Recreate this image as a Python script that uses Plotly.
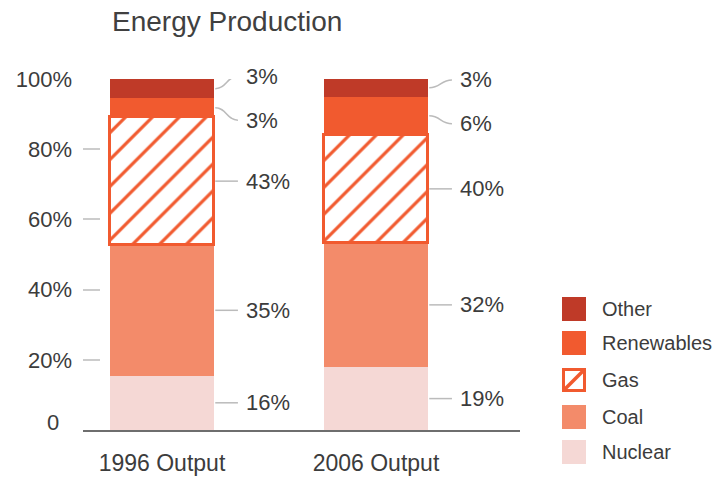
import plotly.graph_objects as go

# ---------------- data ----------------
categories = ["1996 Output", "2006 Output"]
series_names = ["Nuclear", "Coal", "Gas", "Renewables", "Other"]
nuclear = [15.5, 17.9]
coal = [37.2, 35.5]
gas = [36.4, 30.6]
renewables = [5.4, 11.0]
other = [5.5, 5.0]
nuclear_labels = ["16%", "19%"]
coal_labels = ["35%", "32%"]
gas_labels = ["43%", "40%"]
renewables_labels = ["3%", "6%"]
other_labels = ["3%", "3%"]
y_tick_vals = [20, 40, 60, 80, 100]
y_tick_text = ["20%", "40%", "60%", "80%", "100%"]

# ---------------- styles ----------------
C_OTHER = "#BF3A28"
C_REN = "#F15A2F"
C_COAL = "#F38B6A"
C_NUC = "#F5D8D5"
TXT = "#3C3C3C"
FONT = "Liberation Sans, Arial, sans-serif"

W, H = 722, 479
PLOT_L, PLOT_R, PLOT_T, PLOT_B = 83, 520, 79, 430
L, T = PLOT_L, PLOT_T
R, B = W - PLOT_R, H - PLOT_B
PW, PH = PLOT_R - PLOT_L, PLOT_B - PLOT_T

xs = list(range(len(categories)))
BAR_W = 0.486
X_RANGE = [-0.369, 1.673]
Y_RANGE = [0, 100]

fig = go.Figure()

series = [
    ("Nuclear", nuclear, C_NUC, nuclear_labels),
    ("Coal", coal, C_COAL, coal_labels),
    ("Gas", gas, C_REN, gas_labels),
    ("Renewables", renewables, C_REN, renewables_labels),
    ("Other", other, C_OTHER, other_labels),
]

for name, vals, col, _ in series:
    if name == "Gas":
        fig.add_trace(go.Bar(
            x=xs, y=vals, name=name, width=BAR_W, showlegend=False,
            marker=dict(color=col, line=dict(color=col, width=3),
                        pattern=dict(shape="/", fgcolor=col, bgcolor="white",
                                     fgopacity=1, size=19, solidity=0.17)),
            hoverinfo="skip"))
    else:
        fig.add_trace(go.Bar(
            x=xs, y=vals, name=name, width=BAR_W, showlegend=False,
            marker=dict(color=col, line=dict(width=0)), hoverinfo="skip"))

# ---------------- value labels with leader lines ----------------
shapes = []
annotations = []
MIN_GAP = 12.5
for i in xs:
    base = 0.0
    items = []
    for name, vals, col, labs in series:
        mid = base + vals[i] / 2
        items.append([mid, mid, labs[i]])
        base += vals[i]
    # simple repulsion of labels
    for _ in range(50):
        moved = False
        for k in range(len(items) - 1):
            a, b = items[k], items[k + 1]
            if b[1] - a[1] < MIN_GAP:
                m = (a[1] + b[1]) / 2
                a[1] = m - MIN_GAP / 2
                b[1] = m + MIN_GAP / 2
                moved = True
        if not moved:
            break
    xr = i + BAR_W / 2
    x0 = xr + 0.006
    x1 = xr + 0.112
    for mid, ly, txt in items:
        if abs(mid - ly) < 0.01:
            path = f"M{x0},{mid} L{x1},{ly}"
        else:
            xm = (x0 + x1) / 2
            path = f"M{x0},{mid} C{xm},{mid} {xm},{ly} {x1},{ly}"
        shapes.append(dict(type="path", path=path, xref="x", yref="y",
                           line=dict(color="#BBBBBB", width=1.5)))
        annotations.append(dict(x=xr + 0.14, y=(ly - Y_RANGE[0]) / (Y_RANGE[1] - Y_RANGE[0]),
                                xref="x", yref="paper",
                                text=txt, showarrow=False, xanchor="left",
                                yanchor="middle",
                                font=dict(size=22, color=TXT, family=FONT)))

# "0" y tick label (sits slightly above baseline)
annotations.append(dict(x=0, y=0, xref="paper", yref="paper", text="0",
                        showarrow=False, xanchor="right", yanchor="middle",
                        xshift=-22, yshift=8,
                        font=dict(size=22, color=TXT, family=FONT)))

# ---------------- manual legend ----------------
def px_x(x):
    return (x - PLOT_L) / PW

def px_y(y):
    return (PLOT_B - y) / PH

legend_items = [("Other", C_OTHER), ("Renewables", C_REN), ("Gas", None),
                ("Coal", C_COAL), ("Nuclear", C_NUC)]
leg_y = [309, 343, 380, 417, 452]
for (name, col), cy in zip(legend_items, leg_y):
    x0, x1 = 562, 586
    y0, y1 = cy - 12, cy + 12
    if col is None:
        shapes.append(dict(type="rect", xref="paper", yref="paper",
                           x0=px_x(x0 + 1.5), x1=px_x(x1 - 1.5),
                           y0=px_y(y1 - 1.5), y1=px_y(y0 + 1.5),
                           fillcolor="white", line=dict(color=C_REN, width=3)))
        shapes.append(dict(type="line", xref="paper", yref="paper",
                           x0=px_x(x0 + 2), x1=px_x(x1 - 2),
                           y0=px_y(y1 - 2), y1=px_y(y0 + 2),
                           line=dict(color=C_REN, width=3.5)))
    else:
        shapes.append(dict(type="rect", xref="paper", yref="paper",
                           x0=px_x(x0), x1=px_x(x1), y0=px_y(y1), y1=px_y(y0),
                           fillcolor=col, line=dict(width=0)))
    annotations.append(dict(x=px_x(600), y=px_y(cy), xref="paper", yref="paper",
                            text=name, showarrow=False, xanchor="left",
                            yanchor="middle",
                            font=dict(size=20, color=TXT, family=FONT)))

fig.update_layout(
    width=W, height=H,
    margin=dict(l=L, r=R, t=T, b=B, pad=0, autoexpand=False),
    barmode="stack",
    plot_bgcolor="white", paper_bgcolor="white",
    font=dict(family=FONT, color=TXT),
    title=dict(text="Energy Production", x=112 / W, xanchor="left",
               xref="container", y=1 - 21 / H, yanchor="middle",
               yref="container", automargin=False,
               font=dict(size=28, color="#404040", family=FONT)),
    xaxis=dict(range=X_RANGE, tickvals=xs, ticktext=categories,
               showgrid=False, zeroline=False, showline=True, automargin=False,
               linecolor="#6E6E6E", linewidth=2, ticks="",
               tickfont=dict(size=23, color=TXT), ticklabelstandoff=11),
    yaxis=dict(range=Y_RANGE, tickvals=y_tick_vals, ticktext=y_tick_text,
               showgrid=False, zeroline=False, showline=False, automargin=False,
               ticks="inside", ticklen=17, tickwidth=1.5, tickcolor="#CCCCCC",
               tickfont=dict(size=22, color=TXT), ticklabelstandoff=10),
    shapes=shapes,
    annotations=annotations,
    bargap=0,
)

# remove the browser's default page margin so the figure fills the window
fig.write_html("out.html",
               config={"displayModeBar": False},
               post_script="document.body.style.margin='0px';")
